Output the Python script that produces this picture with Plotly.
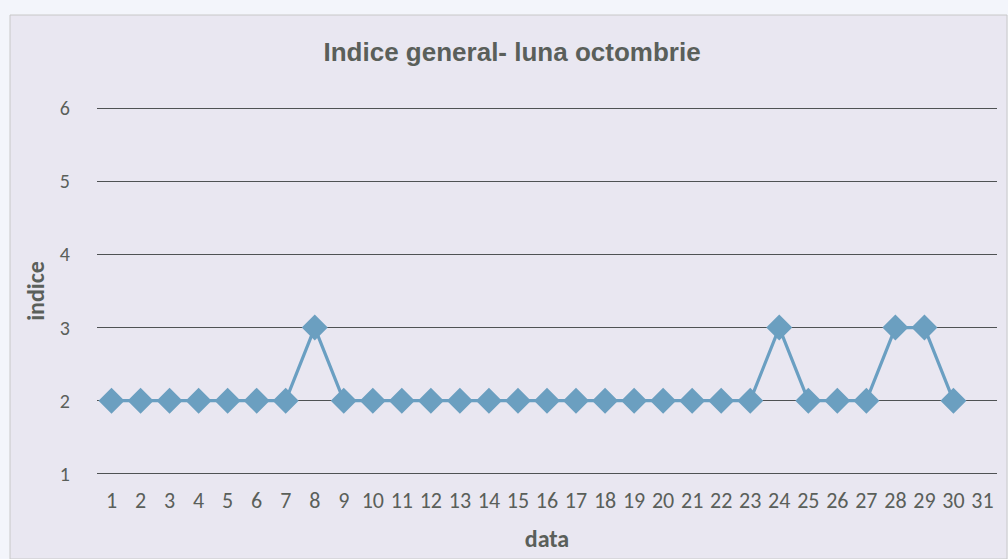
import plotly.graph_objects as go

days = [str(d) for d in range(1, 32)]
indice = [2, 2, 2, 2, 2, 2, 2, 3, 2, 2, 2, 2, 2, 2, 2, 2, 2, 2, 2, 2, 2, 2, 2, 3, 2, 2, 2, 3, 3, 2, None]
y_ticks = [1, 2, 3, 4, 5, 6]

title_text = "Indice general- luna octombrie"
x_title = "data"
y_title = "indice"

line_color = "#6a9fc2"
text_color = "#5a5f5a"
grid_color = "#4f5254"

W, H = 1008, 559
L, R, T, B = 97, 11, 106, 83
pw, ph = W - L - R, H - T - B

fig = go.Figure()
fig.add_trace(go.Scatter(
    x=days, y=indice, mode="lines+markers",
    line=dict(color=line_color, width=3.2),
    marker=dict(symbol="diamond", size=20, color="#6b9fc0"),
    connectgaps=False, showlegend=False,
))

fig.update_layout(
    width=W, height=H,
    paper_bgcolor="#f3f5fb",
    plot_bgcolor="rgba(0,0,0,0)",
    margin=dict(l=L, r=R, t=T, b=B),
    title=dict(text="<b>" + title_text + "</b>", x=0.508, xanchor="center", y=1 - 52 / H, yanchor="middle",
               font=dict(family="Liberation Sans, Arial", size=26, color=text_color)),
    shapes=[dict(type="rect", xref="paper", yref="paper",
                 x0=(10 - L) / pw, x1=(1007 - L) / pw,
                 y0=-B / ph, y1=(H - B - 15) / ph,
                 fillcolor="#e9e7f1", line=dict(color="#c8c8c8", width=1), layer="below")],
)
fig.update_xaxes(
    type="category", categoryorder="array", categoryarray=days,
    range=[-0.5, 30.5],
    showgrid=False, showline=False, zeroline=False, ticks="", ticklabelstandoff=9,
    tickfont=dict(family="Carlito, Lato, Noto Sans", size=22, color=text_color),
    title=dict(text="<b>" + x_title + "</b>", standoff=17,
               font=dict(family="Carlito, Lato, Noto Sans", size=24, color=text_color)),
)
fig.update_yaxes(
    range=[0.97, 6.03], tickvals=y_ticks,
    showgrid=True, gridcolor=grid_color, gridwidth=1,
    showline=False, zeroline=False, ticks="", ticklabelstandoff=26,
    tickfont=dict(family="Carlito, Lato, Noto Sans", size=20, color=text_color),
    title=dict(text="<b>" + y_title + "</b>", standoff=8,
               font=dict(family="Carlito, Lato, Noto Sans", size=24, color=text_color)),
)
fig.write_html("out.html", config={"displayModeBar": False},
               post_script="document.body.style.margin='0';document.body.style.background='#f3f5fb';")
